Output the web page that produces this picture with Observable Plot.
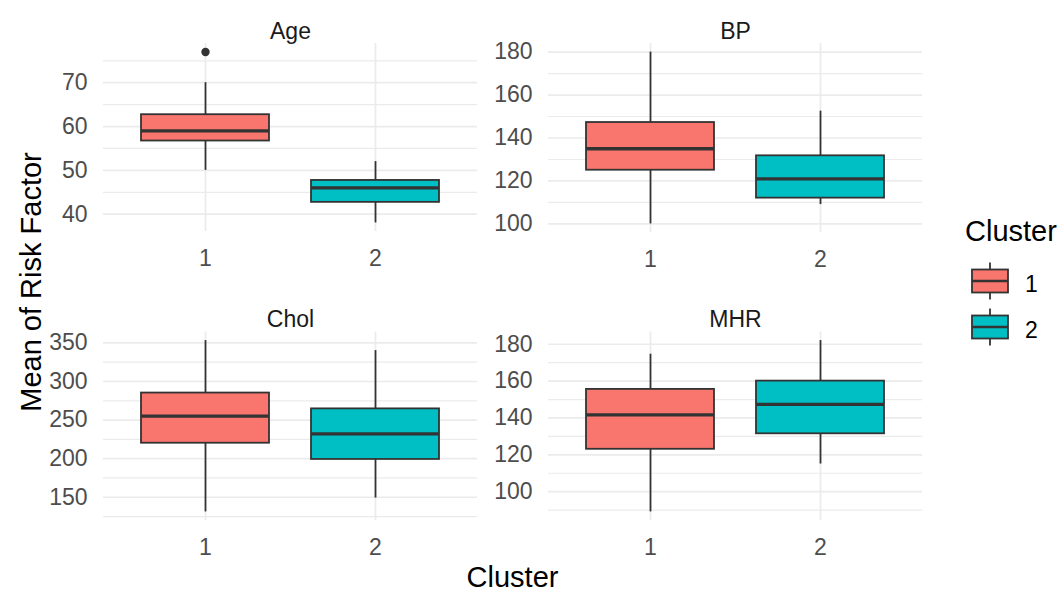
<!DOCTYPE html>
<html><head><meta charset="utf-8">
<script src="https://cdn.jsdelivr.net/npm/d3@7"></script>
<script src="https://cdn.jsdelivr.net/npm/@observablehq/plot@0.6"></script>
<style>
body{margin:0;background:#fff;}
#chart{position:relative;width:1063px;height:593px;font-family:"Liberation Sans",Arial,sans-serif;overflow:hidden;background:#fff}
#chart > *{position:absolute}
</style></head><body><div id="chart"></div>
<script>
// ---- data ----
const clusters = ["1", "2"];
const clusterColors = ["#F8766D", "#00BFC4"];
const factors = ["Age", "BP", "Chol", "MHR"];
// order: Age c1, Age c2, BP c1, BP c2, Chol c1, Chol c2, MHR c1, MHR c2
const boxFactor  = ["Age", "Age", "BP", "BP", "Chol", "Chol", "MHR", "MHR"];
const boxCluster = ["1", "2", "1", "2", "1", "2", "1", "2"];
const lowerWhisker = [50, 38, 100, 109, 131, 149, 89, 115];
const q1           = [56.7, 42.7, 125, 112, 220, 199, 123, 131.4];
const median       = [59, 46, 135, 121, 255, 232, 141.7, 147.4];
const q3           = [62.7, 47.7, 147.2, 131.7, 285, 264.5, 155.5, 160];
const upperWhisker = [70, 52, 180, 152.5, 353, 340, 174.6, 182];
const outlierFactor = ["Age"];
const outlierCluster = ["1"];
const outlierValue = [77];
const ageTicks  = [40, 50, 60, 70];
const bpTicks   = [100, 120, 140, 160, 180];
const cholTicks = [150, 200, 250, 300, 350];
const mhrTicks  = [100, 120, 140, 160, 180];

const rows = boxFactor.map((f, i) => ({factor: f, cluster: boxCluster[i], lo: lowerWhisker[i], q1: q1[i], med: median[i], q3: q3[i], hi: upperWhisker[i]}));
const outliers = outlierFactor.map((f, i) => ({factor: f, cluster: outlierCluster[i], value: outlierValue[i]}));
const tickMap = {Age: ageTicks, BP: bpTicks, Chol: cholTicks, MHR: mhrTicks};

const layout = [
  {left: 0,   top: 0,   width: 480, height: 290, mL: 103, mR: 3, mT: 43,   mB: 59},
  {left: 480, top: 0,   width: 450, height: 290, mL: 68,  mR: 8, mT: 43,   mB: 58},
  {left: 0,   top: 290, width: 480, height: 303, mL: 103, mR: 3, mT: 41.5, mB: 73},
  {left: 480, top: 290, width: 450, height: 303, mL: 68,  mR: 8, mT: 41.5, mB: 73}
];

const chart = document.getElementById("chart");
const FONT = '"Liberation Sans", Arial, sans-serif';
const grid = "#EBEBEB", ink = "#333333";

factors.forEach((f, k) => {
  const L = layout[k];
  const data = rows.filter(d => d.factor === f);
  const outs = outliers.filter(d => d.factor === f);
  const vals = data.flatMap(d => [d.lo, d.hi]).concat(outs.map(d => d.value));
  const [mn, mx] = d3.extent(vals);
  const pad = (mx - mn) * 0.05;
  const domain = [mn - pad, mx + pad];
  const major = tickMap[f];
  const step = major[1] - major[0];
  const minor = [major[0] - step / 2, ...major.map(t => t + step / 2)].filter(t => t >= domain[0] && t <= domain[1]);
  const svg = Plot.plot({
    width: L.width, height: L.height,
    marginLeft: L.mL, marginRight: L.mR, marginTop: L.mT, marginBottom: L.mB,
    style: {fontFamily: FONT, fontSize: "23px", background: "transparent", overflow: "visible"},
    x: {type: "band", domain: clusters, paddingInner: 0.25, paddingOuter: 0.225, label: null},
    y: {domain, label: null},
    color: {domain: clusters, range: clusterColors},
    marks: [
      Plot.ruleY(minor, {stroke: grid, strokeWidth: 1.2}),
      Plot.ruleY(major, {stroke: grid, strokeWidth: 1.7}),
      Plot.ruleX(clusters, {x: d => d, stroke: grid, strokeWidth: 1.7}),
      Plot.ruleX(data, {x: "cluster", y1: "lo", y2: "hi", stroke: ink, strokeWidth: 1.8}),
      Plot.barY(data, {x: "cluster", y1: "q1", y2: "q3", fill: "cluster", stroke: ink, strokeWidth: 1.8}),
      Plot.tickY(data, {x: "cluster", y: "med", stroke: ink, strokeWidth: 3.3}),
      Plot.dot(outs, {x: "cluster", y: "value", r: 4.2, fill: ink, stroke: null}),
      Plot.axisX({tickSize: 0, tickPadding: 18, label: null, color: "#4D4D4D", fontSize: 23}),
      Plot.axisY(major, {tickSize: 0, tickPadding: 16, label: null, color: "#4D4D4D", fontSize: 23}),
      Plot.text([f], {frameAnchor: "top", dy: -21, fill: "#1A1A1A", fontSize: 23})
    ]
  });
  svg.style.left = L.left + "px";
  svg.style.top = L.top + "px";
  chart.appendChild(svg);
});

// axis titles + legend
const over = d3.select(chart).append("svg")
  .attr("width", 1063).attr("height", 593)
  .style("left", "0px").style("top", "0px")
  .style("font-family", FONT);
over.append("text").attr("x", 512.5).attr("y", 577).attr("text-anchor", "middle")
  .attr("dominant-baseline", "central").attr("font-size", 29).attr("fill", "#000").text("Cluster");
over.append("text").attr("transform", "translate(31,282) rotate(-90)").attr("text-anchor", "middle")
  .attr("dominant-baseline", "central").attr("font-size", 29).attr("fill", "#000").text("Mean of Risk Factor");

const leg = over.append("g");
leg.append("text").attr("x", 965).attr("y", 231).attr("dominant-baseline", "central")
  .attr("font-size", 29).attr("fill", "#000").text("Cluster");
clusters.forEach((c, i) => {
  const top = 258 + i * 46, h = 46, x0 = 966, w = 48;
  const g = leg.append("g");
  g.append("line").attr("x1", x0 + w / 2).attr("x2", x0 + w / 2).attr("y1", top + 0.1 * h).attr("y2", top + 0.9 * h)
    .attr("stroke", ink).attr("stroke-width", 1.8);
  g.append("rect").attr("x", x0 + 0.125 * w).attr("y", top + 0.25 * h).attr("width", 0.75 * w).attr("height", 0.5 * h)
    .attr("fill", clusterColors[i]).attr("stroke", ink).attr("stroke-width", 1.8);
  g.append("line").attr("x1", x0 + 0.125 * w).attr("x2", x0 + 0.875 * w).attr("y1", top + h / 2).attr("y2", top + h / 2)
    .attr("stroke", ink).attr("stroke-width", 2.6);
  g.append("text").attr("x", 1025).attr("y", top + h / 2 + 3).attr("dominant-baseline", "central")
    .attr("font-size", 23).attr("fill", "#000").text(c);
});
</script></body></html>
